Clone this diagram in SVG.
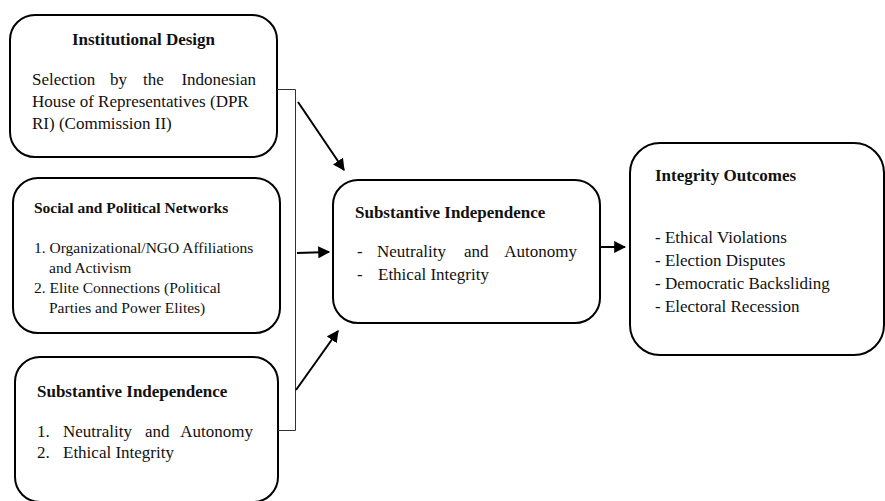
<svg xmlns="http://www.w3.org/2000/svg" width="885" height="501" viewBox="0 0 885 501">
<defs>
<style>
.box{fill:#fff;stroke:#000;stroke-width:2}
text{font-family:"Liberation Serif","Times New Roman",serif;fill:#111}
.t{font-weight:bold;font-size:17px}
.b{font-size:17px}
.t2{font-weight:bold;font-size:15.5px}
.b2{font-size:15.5px}
.bus{fill:none;stroke:#333;stroke-width:1}
.arr{fill:none;stroke:#000;stroke-width:2;marker-end:url(#ah)}
</style>
<marker id="ah" viewBox="0 0 10 10" refX="9" refY="5" markerWidth="6" markerHeight="6" markerUnits="strokeWidth" orient="auto">
<path d="M0,0 L10,5 L0,10 z" fill="#000"/>
</marker>
</defs>
<rect width="885" height="501" fill="#fff"/>
<g id="institutional-design">
<rect class="box" x="10" y="15" width="267" height="142" rx="25"/>
<text class="t" x="143.5" y="45" text-anchor="middle">Institutional Design</text>
<text class="b" x="32" y="85">Selection</text>
<text class="b" x="110" y="85">by</text>
<text class="b" x="143" y="85">the</text>
<text class="b" x="256" y="85" text-anchor="end">Indonesian</text>
<text class="b" x="32" y="107">House of Representatives (DPR</text>
<text class="b" x="32" y="129">RI) (Commission II)</text>
</g>
<g id="social-political-networks">
<rect class="box" x="13" y="178" width="267" height="155" rx="25"/>
<text class="t2" x="34" y="213">Social and Political Networks</text>
<text class="b2" x="34" y="253">1. Organizational/NGO Affiliations</text>
<text class="b2" x="49" y="273">and Activism</text>
<text class="b2" x="34" y="293">2. Elite Connections (Political</text>
<text class="b2" x="49" y="313">Parties and Power Elites)</text>
</g>
<g id="substantive-independence-left">
<rect class="box" x="15" y="357" width="263" height="145" rx="25"/>
<text class="t" x="37" y="397">Substantive Independence</text>
<text class="b" x="37" y="437">1.</text>
<text class="b" x="63" y="437">Neutrality</text>
<text class="b" x="145" y="437">and</text>
<text class="b" x="253" y="437" text-anchor="end">Autonomy</text>
<text class="b" x="37" y="458">2.</text>
<text class="b" x="63" y="458">Ethical Integrity</text>
</g>
<g id="substantive-independence-center">
<rect class="box" x="333" y="180" width="267" height="143" rx="25"/>
<text class="t" x="355" y="218">Substantive Independence</text>
<text class="b" x="357" y="257">-</text>
<text class="b" x="377" y="257">Neutrality</text>
<text class="b" x="464" y="257">and</text>
<text class="b" x="577" y="257" text-anchor="end">Autonomy</text>
<text class="b" x="357" y="280">-</text>
<text class="b" x="378" y="280">Ethical Integrity</text>
</g>
<g id="integrity-outcomes">
<rect class="box" x="630" y="143" width="254" height="212" rx="30"/>
<text class="t" x="655" y="181">Integrity Outcomes</text>
<text class="b" x="655" y="243">- Ethical Violations</text>
<text class="b" x="655" y="266">- Election Disputes</text>
<text class="b" x="655" y="289">- Democratic Backsliding</text>
<text class="b" x="655" y="312">- Electoral Recession</text>
</g>
<g id="connectors">
<path class="bus" d="M277,89.5 H295.5 V430.5 H278"/>
<line class="arr" x1="298" y1="102" x2="344" y2="170"/>
<line class="arr" x1="297" y1="253" x2="329" y2="252"/>
<line class="arr" x1="296" y1="390" x2="338" y2="331"/>
<line class="arr" x1="600" y1="247" x2="625" y2="247"/>
</g>
</svg>
